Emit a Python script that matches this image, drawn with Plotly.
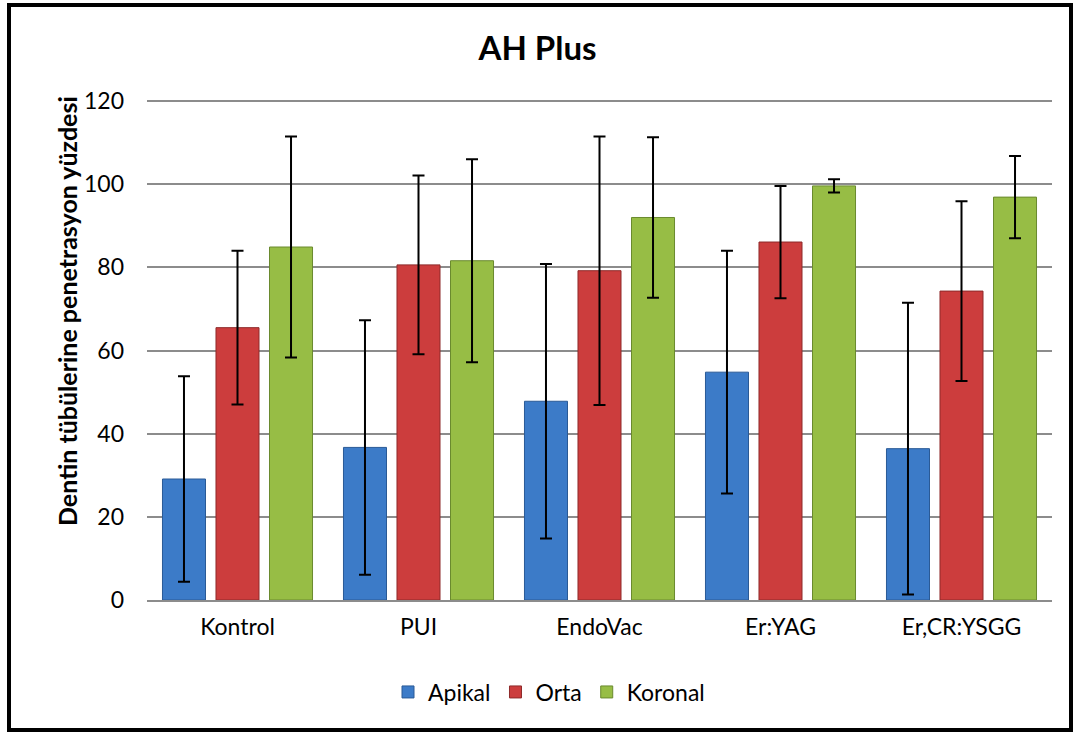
import plotly.graph_objects as go

categories = ["Kontrol", "PUI", "EndoVac", "Er:YAG", "Er,CR:YSGG"]
apikal = [29.1, 36.7, 47.8, 54.8, 36.4]
apikal_err = [24.7, 30.6, 33.0, 29.2, 35.1]
orta = [65.5, 80.6, 79.2, 86.1, 74.3]
orta_err = [18.5, 21.5, 32.3, 13.5, 21.6]
koronal = [84.9, 81.6, 92.0, 99.6, 96.9]
koronal_err = [26.6, 24.4, 19.3, 1.6, 9.9]

series = [
    ("Apikal", apikal, apikal_err, "#3C7BC8", "#2A5A96"),
    ("Orta", orta, orta_err, "#CC3D3D", "#8E2A2A"),
    ("Koronal", koronal, koronal_err, "#97BD45", "#6A8A2E"),
]

FONT = "Lato, Carlito, Calibri, sans-serif"

# plot area in pixels
L, R, T, B = 147, 1052, 99, 600
PW, PH = R - L, B - T

fig = go.Figure()
for name, vals, errs, col, edge in series:
    fig.add_trace(go.Bar(
        name=name, x=categories, y=vals,
        marker=dict(color=col, line=dict(color=edge, width=1)),
        error_y=dict(type="data", array=errs, visible=True,
                     color="black", thickness=2, width=6),
    ))

fig.update_layout(
    width=1075, height=733,
    paper_bgcolor="white", plot_bgcolor="white",
    margin=dict(l=L, r=1075 - R, t=T, b=733 - B),
    barmode="group", bargap=0.113, bargroupgap=0.196,
    title=dict(text="<b>AH Plus</b>", x=0.5, xanchor="center",
               y=1 - 48 / 733, yanchor="middle",
               font=dict(family=FONT, size=33, color="black")),
    font=dict(family=FONT, size=23, color="black"),
    legend=dict(orientation="h", x=(549 - L) / PW, xanchor="center",
                y=(B - 692) / PH, yanchor="middle",
                font=dict(family=FONT, size=23, color="black"),
                itemwidth=30, traceorder="normal"),
    showlegend=True,
)
fig.update_yaxes(
    range=[0, 120.5], dtick=20, showgrid=True, gridcolor="#8C8C8C",
    gridwidth=1.5, zeroline=False, showline=False, ticks="",
    ticklabelstandoff=22,
    tickfont=dict(family=FONT, size=23, color="black"),
)
fig.update_xaxes(
    showline=True, linecolor="#8C8C8C", linewidth=1.5,
    ticks="", ticklabelstandoff=6,
    tickfont=dict(family=FONT, size=23, color="black"),
)

fig.add_annotation(
    text="<b>Dentin tübülerine penetrasyon yüzdesi</b>",
    xref="paper", yref="paper", x=(67 - L) / PW, y=(B - 311) / PH,
    xanchor="center", yanchor="middle", textangle=-90, showarrow=False,
    font=dict(family=FONT, size=25, color="black"),
)

# outer frame
fig.add_shape(type="rect", xref="paper", yref="paper",
              x0=(9 - L) / PW, x1=(1071 - L) / PW,
              y0=(B - 730) / PH, y1=(B - 5) / PH,
              line=dict(color="black", width=4), fillcolor="rgba(0,0,0,0)",
              layer="below")

fig.write_html("out.html", config={"displayModeBar": False},
               post_script="document.body.style.margin='0';document.body.style.overflow='hidden';")
